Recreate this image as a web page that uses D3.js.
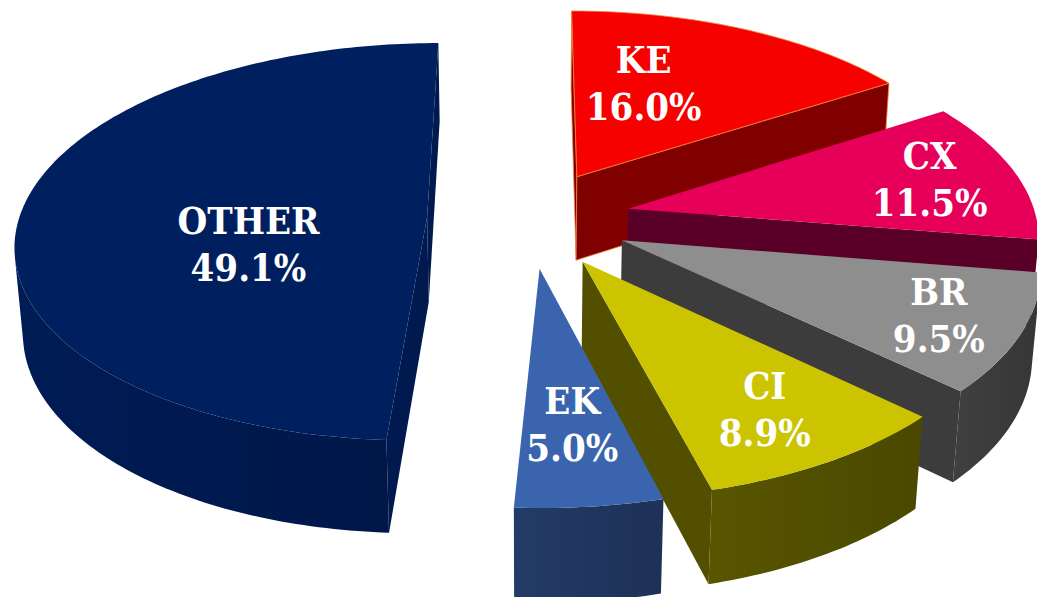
<!DOCTYPE html>
<html>
<head>
<meta charset="utf-8">
<script src="https://cdn.jsdelivr.net/npm/d3@7"></script>
<style>
  html, body { margin: 0; padding: 0; background: #fff; }
  svg { display: block; }
  .lbl {
    font-family: "DejaVu Serif Condensed", "DejaVu Serif", serif;
    font-stretch: condensed;
    font-weight: bold;
    font-size: 38px;
    fill: #fff;
  }
</style>
</head>
<body>
<div id="chart"></div>
<script>
// data, clockwise from 12 o'clock
const categories = ["KE", "CX", "BR", "CI", "EK", "OTHER"];
const shares = [16.0, 11.5, 9.5, 8.9, 5.0, 49.1];

const width = 1037, height = 597;

// colours of the top faces and of the sides
const topColor = d3.scaleOrdinal()
  .domain(categories)
  .range(["#f70000", "#e6005a", "#8e8e8e", "#ccc400", "#3a64ad", "#001f5e"]);
const sideColor = d3.scaleOrdinal()
  .domain(categories)
  .range(["#800000", "#5a0028", "#3c3c3c", "#525000", "#213760", "#001a50"]);

// 3d view : pie of radius 1, camera looking down
const phi = 28.7 * Math.PI / 180;
const cosP = Math.cos(phi), sinP = Math.sin(phi);
const dist = 7.07, focal = 2885, u0 = 529, v0 = 218.5;
const thick = 0.2415, explode = 0.25;
const cam = [0, -dist * cosP, dist * sinP];

function project(p) {
  let zc = dist + p[1] * cosP - p[2] * sinP;
  return [u0 + focal * p[0] / zc, v0 - focal * (p[1] * sinP + p[2] * cosP) / zc];
}
function depthOf(p) { return dist + p[1] * cosP - p[2] * sinP; }
function rim(o, t, z) { return [o[0] + Math.sin(t), o[1] + Math.cos(t), z]; }
function facing(n, p) {
  return n[0] * (cam[0] - p[0]) + n[1] * (cam[1] - p[1]) + n[2] * (cam[2] - p[2]) > 0;
}

// distance from a point to a segment
function segDist(p, a, b) {
  let dx = b[0] - a[0], dy = b[1] - a[1];
  let t = ((p[0] - a[0]) * dx + (p[1] - a[1]) * dy) / (dx * dx + dy * dy || 1);
  t = Math.max(0, Math.min(1, t));
  return Math.hypot(p[0] - a[0] - t * dx, p[1] - a[1] - t * dy);
}

// roomiest point of a top face (big slices)
function polePoint(pts) {
  let xs = d3.extent(pts, p => p[0]), ys = d3.extent(pts, p => p[1]);
  let best = null, bestD = -1;
  for (let x = Math.max(0, xs[0]); x <= Math.min(width, xs[1]); x += 3) {
    for (let y = Math.max(0, ys[0]); y <= Math.min(height, ys[1]); y += 3) {
      if (!d3.polygonContains(pts, [x, y])) continue;
      let d = Math.min(x, width - x, y, height - y);
      for (let i = 0; i < pts.length && d > bestD; i++) {
        d = Math.min(d, segDist([x, y], pts[i], pts[(i + 1) % pts.length]));
      }
      if (d > bestD) { bestD = d; best = [x, y]; }
    }
  }
  return best;
}

let data = categories.map((c, i) => ({ name: c, value: shares[i] }));
let arcs = d3.pie().sort(null).value(d => d.value)(data);

arcs.forEach(a => {
  a.mid = (a.startAngle + a.endAngle) / 2;
  a.off = [explode * Math.sin(a.mid), explode * Math.cos(a.mid)];
  a.z = depthOf([a.off[0] + 0.5 * Math.sin(a.mid), a.off[1] + 0.5 * Math.cos(a.mid), 0]);
});

let svg = d3.select("#chart").append("svg")
  .attr("width", width)
  .attr("height", height);
let defs = svg.append("defs");
let line = d3.line();
let poly = pts => line(pts.map(project)) + "Z";

// far slices first
let order = arcs.slice().sort((a, b) => b.z - a.z);

order.forEach((a, k) => {
  let g = svg.append("g");
  let o = a.off, a0 = a.startAngle, a1 = a.endAngle;
  let apexT = [o[0], o[1], 0], apexB = [o[0], o[1], -thick];
  let outline = a.data.name === "KE" ? "#f0843c" : "none";

  // cut faces
  let n0 = [-Math.cos(a0), Math.sin(a0), 0];
  let n1 = [Math.cos(a1), -Math.sin(a1), 0];
  [[a0, n0], [a1, n1]].forEach(f => {
    if (!facing(f[1], apexT)) return;
    g.append("path")
      .attr("d", poly([apexT, rim(o, f[0], 0), rim(o, f[0], -thick), apexB]))
      .attr("fill", sideColor(a.data.name))
      .attr("stroke", outline)
      .attr("stroke-width", 0.8);
  });

  // outer side, only the part turned to the camera
  let n = Math.max(8, Math.ceil((a1 - a0) / (Math.PI / 180)));
  let ts = d3.range(n + 1).map(i => a0 + (a1 - a0) * i / n);
  let runs = [], cur = null;
  for (let i = 0; i < n; i++) {
    let tm = (ts[i] + ts[i + 1]) / 2;
    let vis = facing([Math.sin(tm), Math.cos(tm), 0], rim(o, tm, 0));
    if (vis) {
      if (!cur) { cur = [ts[i]]; runs.push(cur); }
      cur.push(ts[i + 1]);
    } else cur = null;
  }
  let base = d3.color(sideColor(a.data.name));
  let gid = "side" + k;
  let grad = defs.append("linearGradient").attr("id", gid)
    .attr("x1", 0).attr("x2", 1).attr("y1", 0).attr("y2", 0);
  grad.append("stop").attr("offset", "0%").attr("stop-color", base.brighter(0.2));
  grad.append("stop").attr("offset", "100%").attr("stop-color", base.darker(0.3));
  runs.forEach(r => {
    let pts = r.map(t => rim(o, t, 0)).concat(r.slice().reverse().map(t => rim(o, t, -thick)));
    g.append("path")
      .attr("d", poly(pts))
      .attr("fill", "url(#" + gid + ")")
      .attr("stroke", outline)
      .attr("stroke-width", 0.8);
  });

  // top face
  a.topPts = [apexT].concat(ts.map(t => rim(o, t, 0))).map(project);
  g.append("path")
    .attr("d", line(a.topPts) + "Z")
    .attr("fill", topColor(a.data.name))
    .attr("stroke", outline)
    .attr("stroke-width", 0.8);
});

// labels on the top faces : big slices at their roomiest point,
// small ones a fixed step in from the rim along the middle ray
const labelInset = 84;
arcs.forEach(a => {
  let p;
  if (a.value >= 15) {
    p = polePoint(a.topPts);
  } else {
    let apex = project([a.off[0], a.off[1], 0]);
    let edge = project(rim(a.off, a.mid, 0));
    let len = Math.hypot(apex[0] - edge[0], apex[1] - edge[1]);
    p = [edge[0] + (apex[0] - edge[0]) * labelInset / len,
         edge[1] + (apex[1] - edge[1]) * labelInset / len];
  }
  let t = svg.append("text")
    .attr("class", "lbl")
    .attr("text-anchor", "middle");
  t.append("tspan").attr("x", p[0]).attr("y", p[1] - 10).text(a.data.name);
  t.append("tspan").attr("x", p[0]).attr("y", p[1] + 37).text(a.value.toFixed(1) + "%");
});
</script>
</body>
</html>
